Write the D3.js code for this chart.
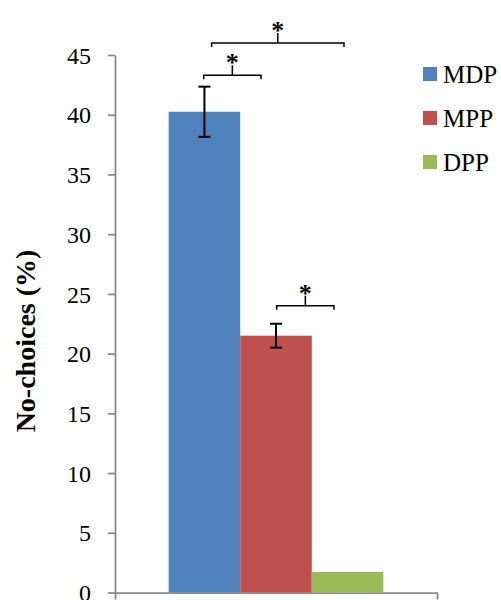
<!DOCTYPE html>
<html>
<head>
<meta charset="utf-8" />
<title>No-choices</title>
<style>
  body { margin: 0; background: #fff; }
  svg text { font-family: "Liberation Serif", "Times New Roman", serif; fill: #000; }
  .axis path, .axis line { stroke: #898989; stroke-width: 1.75; }
</style>
</head>
<body>
<div id="chart"></div>
<script src="https://cdn.jsdelivr.net/npm/d3@7/dist/d3.min.js"></script>
<script>
// data
var categories = [""];
var series = ["MDP", "MPP", "DPP"];
var values = [40.25, 21.5, 1.72];
var errors = [2.1, 1.0, 0];
var colors = ["#4f81bd", "#c0504d", "#9bbb59"];
var yTicks = [0, 5, 10, 15, 20, 25, 30, 35, 40, 45];
// significance brackets: between series, at a level in data units
var brackets = [
  {a: "MDP", b: "MPP", level: 43.3},
  {a: "MDP", b: "DPP", level: 46.0},
  {a: "MPP", b: "DPP", level: 24.0}
];

var width = 501, height = 600;
var svg = d3.select("#chart").append("svg")
  .attr("width", width).attr("height", height);

var y = d3.scaleLinear().domain([0, 45]).range([592.5, 55]);
var x0 = d3.scaleBand().domain(categories).range([115, 437]).paddingOuter(0.25);
var x1 = d3.scaleBand().domain(series).range([0, x0.bandwidth()]);

// y axis
var yAxis = svg.append("g").attr("class", "axis")
  .attr("transform", "translate(115,0)")
  .call(d3.axisLeft(y).tickValues(yTicks).tickSize(7).tickSizeOuter(0).tickPadding(17));
yAxis.selectAll("text").style("font-size", "24px").attr("dy", "0.34em");

// x axis (frame only)
var xf = d3.scaleLinear().domain([0, 1]).range([115, 437]);
svg.append("g").attr("class", "axis")
  .attr("transform", "translate(0," + y(0) + ")")
  .call(d3.axisBottom(xf).tickValues([0, 1]).tickFormat("").tickSize(7).tickSizeOuter(0));

var g = svg.append("g").attr("transform", "translate(" + x0(categories[0]) + ",0)");

g.selectAll("rect.bar").data(series).join("rect")
  .attr("class", "bar")
  .attr("x", function (d) { return x1(d); })
  .attr("width", x1.bandwidth())
  .attr("y", function (d, i) { return y(values[i]); })
  .attr("height", function (d, i) { return y(0) - y(values[i]); })
  .attr("fill", function (d, i) { return colors[i]; });

// error bars
var eb = g.selectAll("g.err").data(series.filter(function (d, i) { return errors[i] > 0; })).join("g")
  .attr("class", "err")
  .attr("stroke", "#000").attr("stroke-width", 2);
eb.each(function (d) {
  var i = series.indexOf(d);
  var cx = x1(d) + x1.bandwidth() / 2;
  var hi = y(values[i] + errors[i]), lo = y(values[i] - errors[i]);
  var s = d3.select(this);
  s.append("line").attr("x1", cx).attr("x2", cx).attr("y1", hi).attr("y2", lo);
  s.append("line").attr("x1", cx - 6).attr("x2", cx + 6).attr("y1", hi).attr("y2", hi);
  s.append("line").attr("x1", cx - 6).attr("x2", cx + 6).attr("y1", lo).attr("y2", lo);
});

// brackets
var bw = x1.bandwidth();
var nudge = [[-0.01, -0.21], [0.1, -0.05], [0.01, -0.19]];
brackets.forEach(function (b, k) {
  var xa = x1(b.a) + bw / 2 + nudge[k][0] * bw;
  var xb = x1(b.b) + bw / 2 + nudge[k][1] * bw;
  var yl = y(b.level);
  var xm = (xa + xb) / 2;
  g.append("path")
    .attr("d", "M" + xa + "," + (yl + 4) + "L" + xa + "," + yl + "L" + xb + "," + yl + "L" + xb + "," + (yl + 4)
      + "M" + xm + "," + yl + "L" + xm + "," + (yl - 10))
    .attr("fill", "none").attr("stroke", "#000").attr("stroke-width", 1.5);
  g.append("text")
    .attr("x", xm).attr("y", yl - 4)
    .attr("text-anchor", "middle")
    .style("font-size", "26px").style("font-weight", "bold")
    .text("*");
});

// y label
svg.append("text")
  .attr("transform", "translate(35,341) rotate(-90)")
  .attr("text-anchor", "middle")
  .style("font-size", "28px").style("font-weight", "bold")
  .text("No-choices (%)");

// legend
var leg = svg.append("g").attr("transform", "translate(423,67)");
var li = leg.selectAll("g").data(series).join("g")
  .attr("transform", function (d, i) { return "translate(0," + (i * 44) + ")"; });
li.append("rect").attr("width", 14).attr("height", 14)
  .attr("fill", function (d, i) { return colors[i]; });
li.append("text").attr("x", 20).attr("y", 15.7)
  .style("font-size", "25px")
  .text(function (d) { return d; });
</script>
</body>
</html>
